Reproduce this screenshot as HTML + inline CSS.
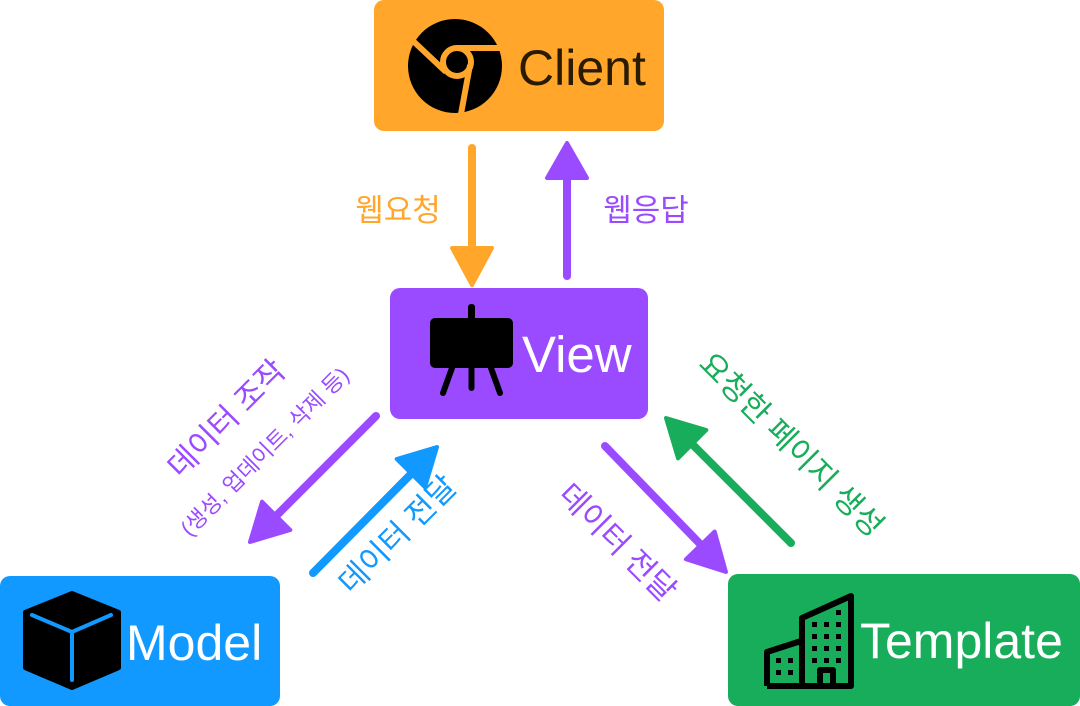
<!DOCTYPE html>
<html><head><meta charset="utf-8"><style>
html,body{margin:0;padding:0;background:#fff;}
svg{display:block;}
text{font-family:"Liberation Sans","Noto Sans CJK KR",sans-serif;}
</style></head><body>
<svg width="1080" height="706" viewBox="0 0 1080 706" xmlns="http://www.w3.org/2000/svg">
<!-- Boxes -->
<rect x="374" y="0" width="290" height="131" rx="10" fill="#FFA62B"/>
<rect x="390" y="288" width="258" height="131" rx="10" fill="#9B4BFF"/>
<rect x="0" y="576" width="280" height="130" rx="10" fill="#1199FF"/>
<rect x="728" y="574" width="352" height="132" rx="10" fill="#18AD5A"/>

<!-- Client icon -->
<circle cx="455" cy="66" r="47" fill="#000"/>
<g stroke="#FFA62B" stroke-width="6" fill="none">
<circle cx="457" cy="62" r="14"/>
<line x1="457" y1="48" x2="505" y2="48"/>
<line x1="470" y1="65" x2="461" y2="114"/>
<line x1="446" y1="72" x2="412" y2="40"/>
</g>
<text x="518" y="85" font-size="50" fill="#2a1a00">Client</text>

<!-- View icon -->
<rect x="430" y="318" width="83" height="50" rx="5" fill="#000"/>
<rect x="468" y="304" width="7" height="16" rx="3" fill="#000"/>
<g stroke="#000" stroke-width="6" stroke-linecap="round">
<line x1="452" y1="368" x2="443" y2="393"/>
<line x1="491" y1="368" x2="500" y2="393"/>
<line x1="471.5" y1="368" x2="471.5" y2="388"/>
</g>
<text x="522" y="372" font-size="51" fill="#fff">View</text>

<!-- Model icon -->
<path d="M72 593 L119 612 L119 668 L72 688 L25 668 L25 612 Z" fill="#000" stroke="#000" stroke-width="4" stroke-linejoin="round"/>
<g stroke="#1199FF" stroke-width="4" stroke-linecap="round" fill="none">
<polyline points="32,615 72,632 111,615"/>
<line x1="72" y1="632" x2="72" y2="680"/>
</g>
<text x="126" y="660" font-size="50" fill="#fff">Model</text>

<!-- Template icon -->
<g stroke="#000" stroke-width="6" fill="none" stroke-linejoin="round">
<path d="M767 686 L767 652 L801 641"/>
<path d="M802 686 L802 618 L851 596 L851 686 Z"/>
<path d="M767 686 L820 686 L820 670 L833 670 L833 686"/>
</g>
<g fill="#000">
<rect x="776" y="658" width="5" height="5"/><rect x="788" y="658" width="5" height="5"/>
<rect x="776" y="670" width="5" height="5"/><rect x="788" y="670" width="5" height="5"/>
<rect x="836" y="610" width="5" height="5"/>
<rect x="812" y="622" width="5" height="5"/><rect x="824" y="622" width="5" height="5"/><rect x="836" y="622" width="5" height="5"/>
<rect x="812" y="634" width="5" height="5"/><rect x="824" y="634" width="5" height="5"/><rect x="836" y="634" width="5" height="5"/>
<rect x="812" y="646" width="5" height="5"/><rect x="824" y="646" width="5" height="5"/><rect x="836" y="646" width="5" height="5"/>
<rect x="812" y="658" width="5" height="5"/><rect x="824" y="658" width="5" height="5"/><rect x="836" y="658" width="5" height="5"/>
</g>
<text x="860" y="658" font-size="50" fill="#fff">Template</text>

<!-- Arrows -->
<g stroke-width="8" stroke-linecap="round" fill="none">
<line x1="472" y1="148" x2="472" y2="255" stroke="#FFA62B"/>
<line x1="567" y1="276" x2="567" y2="170" stroke="#9B4BFF"/>
<line x1="376" y1="416" x2="272" y2="520" stroke="#9B4BFF"/>
<line x1="313" y1="573" x2="416" y2="469" stroke="#1199FF"/>
<line x1="605" y1="446" x2="705" y2="549" stroke="#9B4BFF"/>
<line x1="791" y1="543" x2="688" y2="440" stroke="#18AD5A"/>
</g>
<polygon points="452,248 492,248 472,285" fill="#FFA62B" stroke="#FFA62B" stroke-width="4" stroke-linejoin="round"/>
<polygon points="547,178 587,178 567,143" fill="#9B4BFF" stroke="#9B4BFF" stroke-width="4" stroke-linejoin="round"/>
<g transform="translate(250,542) rotate(135)"><polygon points="0,0 -37,-20 -37,20" fill="#9B4BFF" stroke="#9B4BFF" stroke-width="4" stroke-linejoin="round"/></g>
<g transform="translate(437,447) rotate(-45)"><polygon points="0,0 -37,-20 -37,20" fill="#1199FF" stroke="#1199FF" stroke-width="4" stroke-linejoin="round"/></g>
<g transform="translate(726,572) rotate(46)"><polygon points="0,0 -37,-20 -37,20" fill="#9B4BFF" stroke="#9B4BFF" stroke-width="4" stroke-linejoin="round"/></g>
<g transform="translate(666,418) rotate(-135)"><polygon points="0,0 -37,-20 -37,20" fill="#18AD5A" stroke="#18AD5A" stroke-width="4" stroke-linejoin="round"/></g>

<!-- Labels -->
<text x="398" y="221" font-size="31" fill="#FFA62B" text-anchor="middle">웹요청</text>
<text x="646" y="221" font-size="31" fill="#9B4BFF" text-anchor="middle">웹응답</text>
<text transform="translate(234,426) rotate(-45)" font-size="31" fill="#9B4BFF" text-anchor="middle">데이터 조작</text>
<text transform="translate(270,457) rotate(-45)" font-size="22" fill="#9B4BFF" text-anchor="middle">(생성, 업데이트, 삭제 등)</text>
<text transform="translate(405,542) rotate(-45)" font-size="31" fill="#1199FF" text-anchor="middle">데이터 전달</text>
<text transform="translate(610,550) rotate(45)" font-size="31" fill="#9B4BFF" text-anchor="middle">데이터 전달</text>
<text transform="translate(784,452) rotate(45)" font-size="31" fill="#18AD5A" text-anchor="middle">요청한 페이지 생성</text>
</svg>
</body></html>
